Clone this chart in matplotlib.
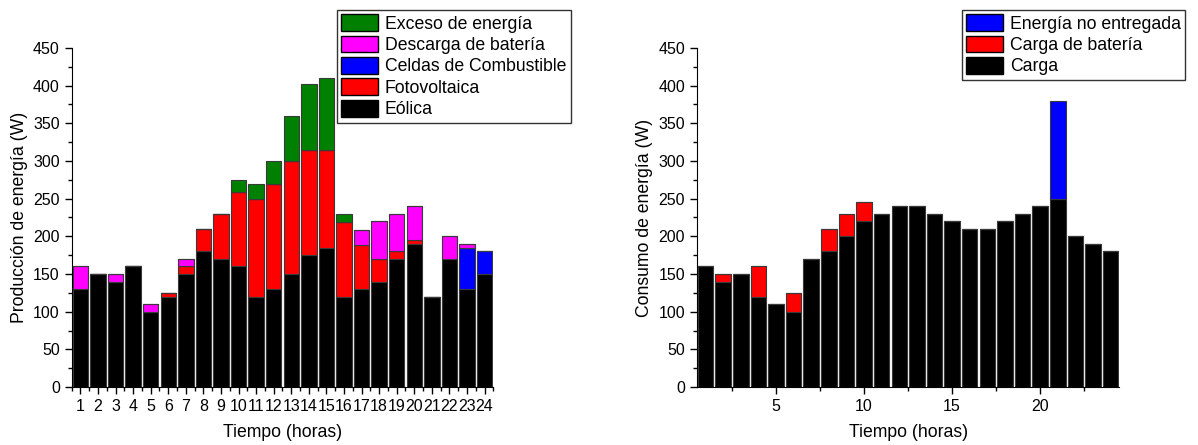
"""Producción y consumo de energía por hora (barras apiladas)."""

import numpy as np
import matplotlib.pyplot as plt
from matplotlib.patches import Patch
from matplotlib.ticker import MultipleLocator

plt.rcParams['font.family'] = ['Liberation Sans', 'DejaVu Sans']

HORAS = np.arange(1, 25)

# Producción (W)
EOLICA = [130, 150, 140, 160, 100, 120, 150, 180, 170, 160, 120, 130,
          150, 175, 185, 120, 130, 140, 170, 190, 120, 170, 130, 150]
FOTOVOLTAICA = [0, 0, 0, 0, 0, 5, 10, 30, 60, 99, 130, 140,
                150, 140, 129, 99, 59, 30, 10, 5, 0, 0, 0, 0]
CELDAS = [0, 0, 0, 0, 0, 0, 0, 0, 0, 0, 0, 0,
          0, 0, 0, 0, 0, 0, 0, 0, 0, 0, 55, 30]
DESCARGA = [30, 0, 10, 0, 10, 0, 10, 0, 0, 0, 0, 0,
            0, 0, 0, 0, 20, 50, 50, 45, 0, 30, 5, 0]
EXCESO = [0, 0, 0, 0, 0, 0, 0, 0, 0, 16, 20, 30,
          60, 87, 96, 11, 0, 0, 0, 0, 0, 0, 0, 0]

# Consumo (W)
CARGA = [160, 140, 150, 120, 110, 100, 170, 180, 200, 220, 230, 240,
         240, 230, 220, 210, 210, 220, 230, 240, 250, 200, 190, 180]
CARGA_BATERIA = [0, 10, 0, 40, 0, 25, 0, 30, 30, 25, 0, 0,
                 0, 0, 0, 0, 0, 0, 0, 0, 0, 0, 0, 0]
NO_ENTREGADA = [0, 0, 0, 0, 0, 0, 0, 0, 0, 0, 0, 0,
                0, 0, 0, 0, 0, 0, 0, 0, 130, 0, 0, 0]

W = 0.88
FS = 12.7


def _stack(ax, series):
    """ Dibuja las barras apiladas. """
    bottom = np.zeros(len(HORAS))
    for values, color in series:
        values = np.asarray(values, dtype=float)
        ax.bar(HORAS, values, W, bottom=bottom, color=color,
               edgecolor='#3a3a3a', linewidth=0.8)
        bottom += values


def _style(ax, ylabel):
    """ Estilo de ejes. """
    ax.set_xlim(0.5, 24.5)
    ax.set_ylim(0, 450)
    ax.spines['top'].set_visible(False)
    ax.spines['right'].set_visible(False)
    ax.yaxis.set_major_locator(MultipleLocator(50))
    ax.yaxis.set_minor_locator(MultipleLocator(25))
    ax.tick_params(which='major', direction='out', length=5, width=1,
                   labelsize=11.5)
    ax.tick_params(which='minor', direction='out', length=3, width=1)
    ax.set_xlabel('Tiempo (horas)', fontsize=FS, labelpad=7)
    ax.set_ylabel(ylabel, fontsize=FS)


def _legend(fig, labels, colors, x, y):
    """ Leyenda fuera de los ejes. """
    handles = [Patch(facecolor=c, edgecolor='black', linewidth=1) for c in colors]
    leg = fig.legend(handles, labels, loc='upper left',
                     bbox_to_anchor=(x, y), fontsize=FS, frameon=True,
                     fancybox=False, handlelength=2.1, handleheight=1.08,
                     labelspacing=0.17, handletextpad=0.37, borderpad=0.25,
                     borderaxespad=0)
    leg.get_frame().set_edgecolor('black')
    leg.get_frame().set_linewidth(1)


fig = plt.figure(figsize=(11.98, 4.45), dpi=100)
ax1 = fig.add_axes([0.0598, 0.1303, 0.352, 0.762])
ax2 = fig.add_axes([0.5816, 0.1303, 0.3528, 0.762])

_stack(ax1, [(EOLICA, 'black'), (FOTOVOLTAICA, 'red'), (CELDAS, 'blue'),
             (DESCARGA, 'magenta'), (EXCESO, 'green')])
_style(ax1, 'Producción de energía (W)')
ax1.set_xticks(HORAS)
ax1.xaxis.set_minor_locator(MultipleLocator(0.5))

_stack(ax2, [(CARGA, 'black'), (CARGA_BATERIA, 'red'), (NO_ENTREGADA, 'blue')])
_style(ax2, 'Consumo de energía (W)')
ax2.xaxis.set_major_locator(MultipleLocator(5))
ax2.xaxis.set_minor_locator(MultipleLocator(2.5))

_legend(fig, ['Exceso de energía', 'Descarga de batería', 'Celdas de Combustible',
              'Fotovoltaica', 'Eólica'],
        ['green', 'magenta', 'blue', 'red', 'black'], 337 / 1198, 1 - 10 / 445)
_legend(fig, ['Energía no entregada', 'Carga de batería', 'Carga'],
        ['blue', 'red', 'black'], 962 / 1198, 1 - 10 / 445)

fig.savefig('out.png', dpi=100)
